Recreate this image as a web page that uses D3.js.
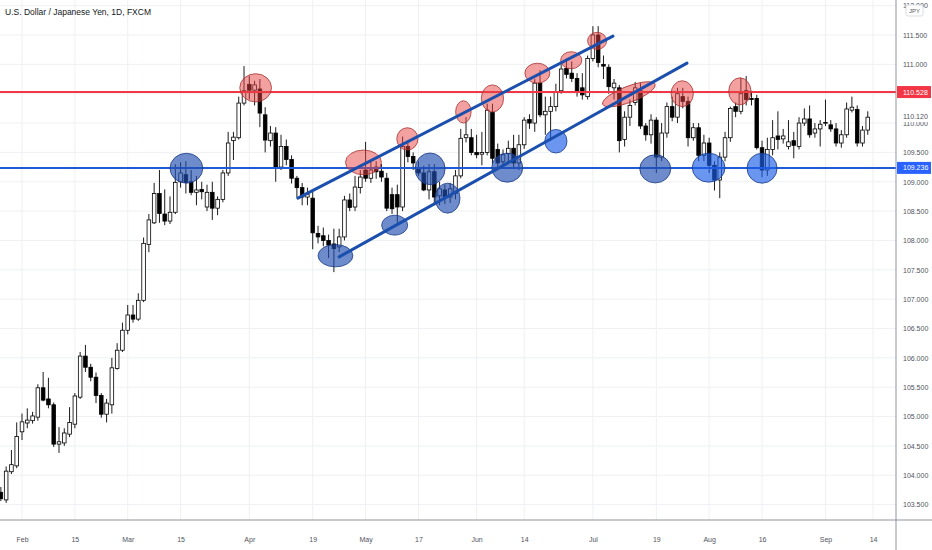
<!DOCTYPE html>
<html>
<head>
<meta charset="utf-8">
<script src="https://cdn.jsdelivr.net/npm/d3@7"></script>
<style>
  body { margin: 0; background: #fff; }
  svg { display: block; }
  text { font-family: "Liberation Sans", Arial, sans-serif; }
</style>
</head>
<body>
<div id="chart"></div>
<script>

// trading days (2021, month-day)
var days = [
  "01-26","01-27","01-28","01-29",
  "02-01","02-02","02-03","02-04","02-05","02-08","02-09","02-10","02-11","02-12","02-15","02-16","02-17","02-18","02-19","02-22","02-23","02-24","02-25","02-26",
  "03-01","03-02","03-03","03-04","03-05","03-08","03-09","03-10","03-11","03-12","03-15","03-16","03-17","03-18","03-19","03-22","03-23","03-24","03-25","03-26","03-29","03-30","03-31",
  "04-01","04-02","04-05","04-06","04-07","04-08","04-09","04-12","04-13","04-14","04-15","04-16","04-19","04-20","04-21","04-22","04-23","04-26","04-27","04-28","04-29","04-30",
  "05-03","05-04","05-05","05-06","05-07","05-10","05-11","05-12","05-13","05-14","05-17","05-18","05-19","05-20","05-21","05-24","05-25","05-26","05-27","05-28","05-31",
  "06-01","06-02","06-03","06-04","06-07","06-08","06-09","06-10","06-11","06-14","06-15","06-16","06-17","06-18","06-21","06-22","06-23","06-24","06-25","06-28","06-29","06-30",
  "07-01","07-02","07-05","07-06","07-07","07-08","07-09","07-12","07-13","07-14","07-15","07-16","07-19","07-20","07-21","07-22","07-23","07-26","07-27","07-28","07-29","07-30",
  "08-02","08-03","08-04","08-05","08-06","08-09","08-10","08-11","08-12","08-13","08-16","08-17","08-18","08-19","08-20","08-23","08-24","08-25","08-26","08-27","08-30","08-31",
  "09-01","09-02","09-03","09-06","09-07","09-08","09-09","09-10","09-13"
];

var open = [
  103.71,103.58,104.06,104.16,
  104.74,104.89,104.93,104.99,105.49,105.30,105.20,104.53,104.55,104.70,104.87,105.33,106.03,105.84,105.67,105.36,105.04,105.20,105.82,106.13,
  106.47,106.73,106.66,106.98,107.93,108.30,108.80,108.45,108.33,108.48,109.00,109.12,109.00,108.82,108.87,108.57,108.82,108.55,108.70,109.15,109.70,109.75,110.34,
  110.66,110.56,110.58,110.14,109.70,109.83,109.25,109.60,109.38,109.06,108.90,108.74,108.72,108.12,108.08,108.00,107.94,107.89,108.06,108.69,108.57,108.90,
  109.20,109.06,109.25,109.18,109.06,108.78,108.78,108.57,109.60,109.43,109.24,109.15,108.86,109.17,108.76,108.86,108.74,108.80,109.10,109.75,109.75,
  109.50,109.47,109.50,110.18,109.55,109.34,109.48,109.57,109.32,109.63,110.06,110.00,110.68,110.14,110.20,110.28,110.55,110.93,110.85,110.76,110.60,110.45,
  111.10,111.50,111.00,110.95,110.60,110.60,109.72,110.10,110.35,110.55,109.95,109.80,110.05,109.42,109.83,110.28,110.10,110.45,110.37,109.75,109.92,109.45,
  109.66,109.28,109.03,109.42,109.75,110.28,110.20,110.55,110.42,110.42,109.58,109.20,109.55,109.78,109.73,109.60,109.70,109.60,110.00,110.07,109.83,109.90,
  110.00,109.97,109.90,109.66,109.80,110.22,110.23,109.66,109.88
];

var high = [
  103.80,104.15,104.43,104.90,
  105.05,105.14,105.08,105.55,105.76,105.66,105.24,104.82,104.80,105.16,105.40,106.10,106.22,105.90,105.75,105.40,105.30,106.00,106.25,106.60,
  106.90,106.90,107.10,108.05,108.45,108.98,109.20,108.87,108.75,109.30,109.33,109.35,109.20,109.10,109.00,108.95,109.00,108.75,109.20,109.85,109.85,110.45,110.97,
  110.80,110.72,110.75,110.27,109.95,109.93,109.80,109.72,109.45,109.10,108.98,108.90,108.85,108.25,108.22,108.10,108.20,108.20,108.76,108.80,109.10,109.20,
  109.68,109.35,109.35,109.30,109.15,108.90,108.95,109.77,109.70,109.50,109.35,109.27,109.30,109.30,109.00,108.95,108.98,109.20,109.90,110.10,109.90,
  109.80,109.85,110.33,110.33,109.65,109.55,109.70,109.80,109.80,110.10,110.15,110.75,110.90,110.45,110.45,110.67,111.00,111.10,111.05,110.85,110.85,111.15,
  111.65,111.65,111.15,111.00,110.75,110.65,110.20,110.40,110.70,110.68,110.00,110.15,110.10,110.00,110.35,110.45,110.60,110.60,110.45,110.00,110.00,109.80,
  109.75,109.35,109.50,109.85,110.28,110.35,110.77,110.80,110.55,110.48,109.70,109.75,110.05,110.20,109.90,110.05,109.85,110.10,110.25,110.30,110.00,110.05,
  110.40,110.05,110.00,109.88,110.35,110.45,110.30,109.95,110.20
];

var low = [
  103.56,103.53,104.02,104.12,
  104.60,104.80,104.88,104.93,105.26,105.14,104.48,104.38,104.50,104.65,104.80,105.30,105.76,105.60,105.23,104.98,104.90,105.05,105.80,106.10,
  106.40,106.60,106.63,106.95,107.80,108.28,108.30,108.26,108.28,108.45,108.90,108.80,108.77,108.60,108.70,108.50,108.35,108.43,108.65,109.10,109.37,109.72,110.30,
  110.40,110.30,109.93,109.50,109.60,109.00,109.20,109.28,108.97,108.73,108.60,108.60,107.85,107.95,107.90,107.70,107.46,107.80,108.00,108.50,108.50,108.80,
  109.00,108.98,109.05,109.00,108.50,108.45,108.30,108.50,109.33,109.20,109.10,108.84,108.70,108.60,108.60,108.62,108.64,108.70,109.06,109.67,109.45,
  109.40,109.28,109.45,109.30,109.20,109.22,109.30,109.25,109.20,109.56,109.90,109.85,110.10,109.80,109.70,110.20,110.50,110.76,110.70,110.45,110.40,110.40,
  111.05,110.95,110.75,110.50,110.40,109.50,109.60,109.95,110.30,109.90,109.70,109.65,109.15,109.35,109.75,110.03,110.00,110.25,109.60,109.70,109.35,109.35,
  109.15,108.85,108.72,109.35,109.68,110.10,110.15,110.30,110.30,109.55,109.08,109.10,109.45,109.55,109.65,109.55,109.40,109.55,109.95,109.75,109.75,109.60,
  109.95,109.85,109.60,109.58,109.75,110.18,109.60,109.60,109.80
];

var close = [
  103.60,104.07,104.18,104.66,
  104.91,104.94,105.01,105.49,105.28,105.20,104.53,104.57,104.72,104.90,105.35,106.03,105.84,105.67,105.36,105.04,105.23,105.83,106.13,106.47,
  106.73,106.66,106.98,107.95,108.35,108.80,108.46,108.33,108.48,108.99,109.15,108.99,108.82,108.86,108.83,108.82,108.55,108.70,109.15,109.66,109.76,110.34,110.55,
  110.56,110.65,110.17,109.71,109.83,109.25,109.60,109.38,109.06,108.90,108.74,108.78,108.13,108.06,108.00,107.92,107.86,108.06,108.69,108.56,108.91,109.08,
  109.06,109.20,109.17,109.08,108.55,108.54,108.57,109.60,109.43,109.32,109.15,108.86,109.17,108.74,108.88,108.74,108.88,109.10,109.74,109.80,109.50,
  109.46,109.50,110.22,109.40,109.32,109.46,109.57,109.32,109.63,110.05,110.00,110.68,110.14,110.20,110.28,110.52,110.92,110.83,110.76,110.55,110.48,111.10,
  111.50,111.03,110.97,110.62,110.68,109.70,110.10,110.30,110.60,109.95,109.80,110.05,109.42,109.83,110.28,110.10,110.50,110.37,109.75,109.92,109.45,109.66,
  109.28,109.03,109.42,109.75,110.25,110.20,110.50,110.40,110.40,109.58,109.20,109.55,109.75,109.72,109.78,109.68,109.62,110.00,110.07,109.80,109.90,109.98,
  110.01,109.90,109.66,109.80,110.24,110.27,109.66,109.88,110.10
];

// date axis labels
var tickDays   = ["02-01","02-15","03-01","03-15","04-01","04-19","05-03","05-17","06-01","06-14","07-01","07-19","08-02","08-16","09-01","09-14"];
var tickLabels = ["Feb","15","Mar","15","Apr","19","May","17","Jun","14","Jul","19","Aug","16","Sep","14"];

// price axis
var priceTicks = [103.5,104,104.5,105,105.5,106,106.5,107,107.5,108,108.5,109,109.5,110,110.5,111,111.5,112];

// drawn levels
var resistance = 110.528;
var support = 109.236;
var lastPrice = 110.120;

// channel lines: [start day, bar offset, price, end day, bar offset, price]
var channelUpper = ["04-14", 0.2, 108.72, "07-07", -0.2, 111.48];
var channelLower = ["04-26", 0, 107.72, "07-27", -0.2, 111.02];

// marked touches: day, bar offset, price, half width (bars), half height (price)
var redDays   = ["04-02","04-30","05-13","05-27","06-04","06-16","06-25","07-02","07-12","07-26","08-10"];
var redOffs   = [0.2, 0.6, -0.1, 0.5, 0, 0.5, -0.1, -0.2, -0.2, -0.1, -0.2];
var redPrices = [110.60,109.33,109.73,110.19,110.42,110.85,111.07,111.40,110.49,110.50,110.54];
var redW      = [3.0, 3.4, 2.0, 1.46, 2.1, 2.36, 2.0, 1.8, 5.3, 2.1, 2.1];
var redH      = [0.24,0.21,0.19,0.19,0.23,0.17,0.145,0.145,0.136,0.22,0.23];
var redTilt   = [0,0,0,0,0,0,0,0,-21,0,0];

var blueDays   = ["03-16","04-23","05-10","05-19","05-24","06-09","06-22","07-19","08-02","08-16"];
var blueOffs   = [0.1, 0.3, 0.5, 0.2, 0.5, -0.2, 0, -0.2, -0.1, 0];
var bluePrices = [109.23,107.74,108.26,109.22,108.72,109.24,109.69,109.22,109.24,109.23];
var blueW      = [3.1, 3.3, 2.46, 2.84, 2.36, 2.93, 2.1, 2.93, 3.1, 2.84];
var blueH      = [0.255,0.19,0.17,0.27,0.255,0.247,0.2,0.24,0.247,0.255];
var blueBright = [false,false,false,false,false,false,true,false,true,true];

// set the dimensions of the page
var W = 932, H = 550,
    plotRight = 896, plotBottom = 520;

var svg = d3.select("#chart")
  .append("svg")
    .attr("width", W)
    .attr("height", H);

// bar index scale
var x = d3.scaleLinear()
  .domain([0, days.length - 1])
  .range([0.86, 0.86 + (days.length - 1) * 5.286]);
var step = x(1) - x(0);

var y = d3.scaleLinear()
  .domain([103.5, 111.5])
  .range([504.6, 35]);

function idx(d) {
  var i = days.indexOf(d);
  return i < 0 ? days.length : i;
}
function xd(d, off) { return x(idx(d) + (off || 0)); }

// grid
svg.append("g")
  .selectAll("line")
  .data(tickDays)
  .enter().append("line")
    .attr("x1", function(d) { return xd(d); })
    .attr("x2", function(d) { return xd(d); })
    .attr("y1", 0).attr("y2", plotBottom)
    .attr("stroke", "#eef0f3");

svg.append("g")
  .selectAll("line")
  .data(priceTicks)
  .enter().append("line")
    .attr("x1", 0).attr("x2", plotRight)
    .attr("y1", function(d) { return y(d); })
    .attr("y2", function(d) { return y(d); })
    .attr("stroke", "#eef0f3");

// candles
var candles = svg.append("g")
  .selectAll("g")
  .data(days)
  .enter().append("g");

candles.append("line")
  .attr("x1", function(d, i) { return x(i); })
  .attr("x2", function(d, i) { return x(i); })
  .attr("y1", function(d, i) { return y(high[i]); })
  .attr("y2", function(d, i) { return y(low[i]); })
  .attr("stroke", "#000")
  .attr("stroke-width", 0.9);

candles.append("rect")
  .attr("x", function(d, i) { return x(i) - 1.8; })
  .attr("width", 3.6)
  .attr("y", function(d, i) { return y(Math.max(open[i], close[i])); })
  .attr("height", function(d, i) { return Math.max(0.8, Math.abs(y(open[i]) - y(close[i]))); })
  .attr("fill", function(d, i) { return close[i] >= open[i] ? "#fff" : "#000"; })
  .attr("stroke", "#000")
  .attr("stroke-width", 0.8);

// horizontal levels
svg.append("line")
  .attr("x1", 0).attr("x2", plotRight)
  .attr("y1", y(resistance)).attr("y2", y(resistance))
  .attr("stroke", "#f23645").attr("stroke-width", 2);

svg.append("line")
  .attr("x1", 0).attr("x2", plotRight)
  .attr("y1", y(support)).attr("y2", y(support))
  .attr("stroke", "#1f5bd6").attr("stroke-width", 2);

// ellipses
svg.append("g")
  .selectAll("ellipse")
  .data(redDays)
  .enter().append("ellipse")
    .attr("transform", function(d, i) {
      return "translate(" + xd(d, redOffs[i]) + "," + y(redPrices[i]) + ") rotate(" + redTilt[i] + ")";
    })
    .attr("rx", function(d, i) { return redW[i] * step; })
    .attr("ry", function(d, i) { return y(0) - y(redH[i]); })
    .attr("fill", "rgb(229,65,65)")
    .attr("fill-opacity", 0.5)
    .attr("stroke", "#a83232")
    .attr("stroke-width", 0.8);

svg.append("g")
  .selectAll("ellipse")
  .data(blueDays)
  .enter().append("ellipse")
    .attr("cx", function(d, i) { return xd(d, blueOffs[i]); })
    .attr("cy", function(d, i) { return y(bluePrices[i]); })
    .attr("rx", function(d, i) { return blueW[i] * step; })
    .attr("ry", function(d, i) { return y(0) - y(blueH[i]); })
    .attr("fill", function(d, i) { return blueBright[i] ? "rgb(28,94,232)" : "rgb(32,78,175)"; })
    .attr("fill-opacity", 0.65)
    .attr("stroke", "#1a3a85")
    .attr("stroke-width", 0.8);

// channel
[channelUpper, channelLower].forEach(function(c) {
  svg.append("line")
    .attr("x1", xd(c[0], c[1])).attr("y1", y(c[2]))
    .attr("x2", xd(c[3], c[4])).attr("y2", y(c[5]))
    .attr("stroke", "#1b4fae")
    .attr("stroke-width", 3)
    .attr("stroke-linecap", "round");
});

// Add price axis
var yAxis = svg.append("g")
  .attr("transform", "translate(" + plotRight + ",0)")
  .call(d3.axisRight(y).tickValues(priceTicks).tickSize(0).tickPadding(7).tickFormat(d3.format(".3f")));
yAxis.select(".domain").remove();
yAxis.selectAll("text").attr("font-size", 7).attr("fill", "#50535e").attr("font-family", "Liberation Sans, Arial, sans-serif");

// Add date axis
var xAxis = svg.append("g")
  .attr("transform", "translate(0," + plotBottom + ")")
  .call(d3.axisBottom(x)
    .tickValues(tickDays.map(idx))
    .tickSize(0).tickPadding(17)
    .tickFormat(function(v, i) { return tickLabels[i]; }));
xAxis.select(".domain").remove();
xAxis.selectAll("text").attr("font-size", 7).attr("fill", "#50535e").attr("font-family", "Liberation Sans, Arial, sans-serif");

// axis borders
svg.append("line")
  .attr("x1", plotRight).attr("x2", plotRight)
  .attr("y1", 0).attr("y2", H)
  .attr("stroke", "#8f939c").attr("stroke-width", 1);
svg.append("line")
  .attr("x1", 0).attr("x2", W)
  .attr("y1", plotBottom).attr("y2", plotBottom)
  .attr("stroke", "#8f939c").attr("stroke-width", 1);

// price tags
function tag(v, bg, fg, label) {
  var g = svg.append("g").attr("transform", "translate(" + (plotRight + 1) + "," + y(v) + ")");
  g.append("rect").attr("x", 0).attr("y", -6).attr("width", 34).attr("height", 12).attr("fill", bg);
  g.append("text").attr("x", 6).attr("y", 2.5)
    .attr("font-size", 7).attr("fill", fg).text(label);
}
tag(resistance, "#f23645", "#fff", d3.format(".3f")(resistance));
tag(support, "#2962ff", "#fff", d3.format(".3f")(support));
tag(lastPrice, "#fff", "#50535e", d3.format(".3f")(lastPrice));

// currency badge
var badge = svg.append("g").attr("transform", "translate(906,5)");
badge.append("rect").attr("width", 17).attr("height", 11).attr("rx", 2)
  .attr("fill", "#fff").attr("stroke", "#d1d4dc").attr("stroke-width", 0.8);
badge.append("text").attr("x", 8.5).attr("y", 8).attr("text-anchor", "middle")
  .attr("font-size", 6).attr("fill", "#50535e").text("JPY");

// title
svg.append("text")
  .attr("x", 5).attr("y", 15)
  .attr("font-size", 8.5)
  .attr("fill", "#131722")
  .text("U.S. Dollar / Japanese Yen, 1D, FXCM");

</script>
</body>
</html>
